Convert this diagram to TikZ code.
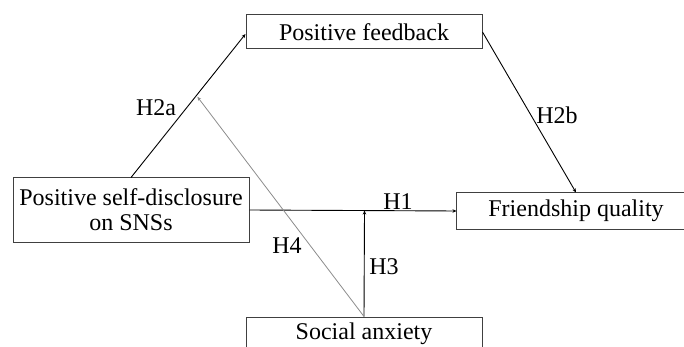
\documentclass[tikz,border=0pt]{standalone}
\usepackage{fontspec}
\setmainfont{Liberation Serif}
\usetikzlibrary{arrows.meta,calc}
\begin{document}
\begin{tikzpicture}[x=1pt,y=-1pt,
  box/.style={draw=black!75,line width=1pt,minimum width=236pt,inner sep=0pt,
    font=\fontsize{24}{25}\selectfont,align=center},
  conn/.style={line width=0.9pt,-{Stealth[length=4pt,width=3.5pt]}},
  modline/.style={draw=black!45,line width=0.8pt,-{Stealth[length=4pt,width=3.5pt]}},
  lbl/.style={font=\fontsize{24}{25}\selectfont,inner sep=0pt}]
\useasboundingbox (0,0) rectangle (684,347);
\clip (0,0) rectangle (684,347);
\node[box,minimum height=34pt] (fb) at (364,32) {Positive feedback};
\node[box,minimum height=64pt] (sd) at (131,210) {Positive self-disclosure\\on SNSs};
\node[box,draw=none,minimum width=238pt,minimum height=36pt] (fq) at (576,211) {Friendship quality};
\draw[draw=black!75,line width=1pt] ($(fq.north west)+(700,0)$) -- (fq.north west) -- (fq.south west) -- ($(fq.south west)+(700,0)$);
\node[box,minimum height=34pt] (sa) at (364,334) {Social anxiety};
\coordinate (fbin) at ($(fb.west)+(0,2)$);
\draw[conn] (sd.north) -- (fbin);
\draw[conn] (fb.east) -- (fq.north);
\draw[conn] (sd.east) -- (fq.west);
\coordinate (h3end) at ($(sd.east)!(sa.north)!(fq.west)$);
\draw[conn] (sa.north) -- (h3end);
\coordinate (h4end) at ($(sd.north)!0.5625!(fbin)+(2,0)$);
\draw[modline] (sa.north) -- (h4end);
\node[lbl] (l2a) at (156,108) {H2a};
\node[lbl] (l2b) at (557,115) {H2b};
\node[lbl] (l1) at (398,202) {H1};
\node[lbl] (l4) at (287,246) {H4};
\node[lbl] (l3) at (384,267) {H3};
\end{tikzpicture}
\end{document}
